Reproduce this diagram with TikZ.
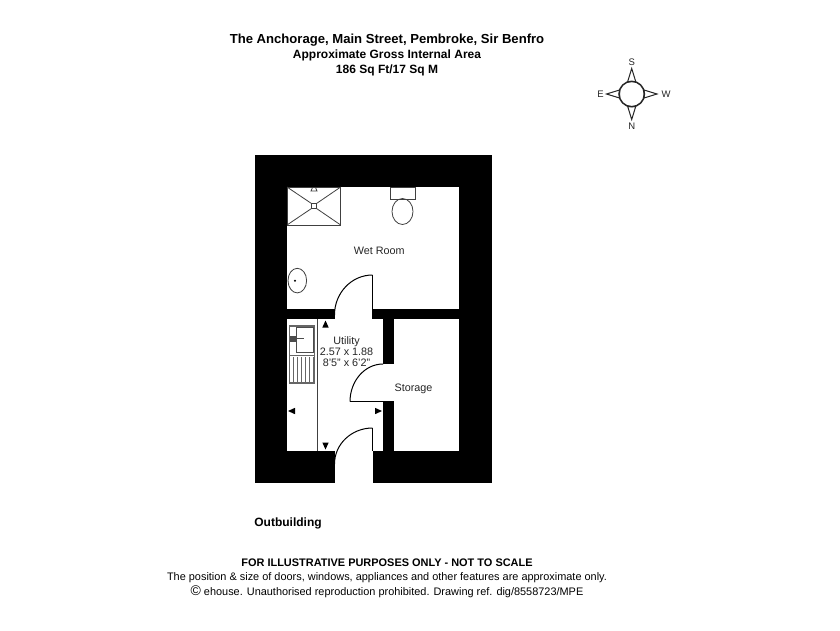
\documentclass[tikz,border=0pt]{standalone}
\usepackage{fontspec}
\setmainfont{Liberation Sans}
\tikzset{
  wall/.style={fill=black},
  room/.style={fill=white},
  fitting/.style={draw=black!75, line width=0.8pt},
  leaf/.style={draw=black, line width=1.2pt},
  marker/.style={fill=black},
  compassmark/.style={draw=black!85, line width=1pt},
  compasslabel/.style={font=\fontsize{9.5}{11}\selectfont, text=black!85, inner sep=0pt},
  roomlabel/.style={font=\fontsize{10.8}{11.3}\selectfont, align=center, text=black!85, inner sep=0pt},
  heading/.style={font=\bfseries\fontsize{12}{14}\selectfont, inner sep=0pt},
  footer/.style={font=\fontsize{10.92}{13}\selectfont, inner sep=0pt},
}
\begin{document}
\begin{tikzpicture}[x=1pt, y=-1pt]
            \useasboundingbox (0,0) rectangle (840,630);
            \fill[white] (0,0) rectangle (840,630);

            \fill[wall] (254.5,155) rectangle (491.5,483);
            \fill[room] (287,187) rectangle (458.5,308.5);
            \fill[room] (287,319) rectangle (383,451);
            \fill[room] (393.5,319) rectangle (458.5,451);
            \fill[room] (334.5,308) rectangle (372.5,320);
            \fill[room] (334.5,450) rectangle (372.5,484);
            \fill[room] (382,364) rectangle (394,402);

            \draw[leaf] (372.5,275) -- (372.5,319);
            \draw[leaf, line width=1pt] (372.5,275) arc[start angle=90, end angle=180, x radius=38pt, y radius=40pt];
            \draw[leaf] (372.5,428) -- (372.5,451);
            \draw[leaf, line width=1pt] (372.5,428) arc[start angle=90, end angle=180, x radius=38pt, y radius=36pt];
            \draw[leaf] (350,401.7) -- (393.5,401.7);
            \draw[leaf, line width=1pt] (350,401.7) arc[start angle=180, end angle=90, x radius=33pt, y radius=37.7pt];

            \draw[fitting] (287,187) rectangle (340.7,225);
            \draw[fitting] (287,187) -- (311.5,203.5);
            \draw[fitting] (340.7,187) -- (316.5,203.5);
            \draw[fitting] (287,225) -- (311.5,208.5);
            \draw[fitting] (340.7,225) -- (316.5,208.5);
            \draw[fitting] (311.3,203.3) rectangle (316.7,208.7);
            \draw[fitting] (311,191) -- (312.5,187.5) -- (315.5,187.5) -- (317,191) -- cycle;

            \draw[fitting] (390.7,187) rectangle (415.7,199);
            \draw[fitting] (402.5,211.5) ellipse [x radius=10.5pt, y radius=13pt];
            \draw[fitting] (297.3,280.6) ellipse [x radius=9.3pt, y radius=12.3pt];
            \fill[black] (295,280.7) circle (1.1pt);

            \draw[fitting, line width=0.7pt] (317.7,319) -- (317.7,451);
            \draw[fitting, black!60, line width=1.2pt] (289.5,326) rectangle (314.5,383);
            \draw[fitting, black!60] (289.5,355) -- (314.5,355);
            \draw[fitting, black!70] (296.7,327.5) rectangle (313,352);
            \fill[black!70] (290,335.5) rectangle (297,341.5);
            \draw[fitting, black!70] (297,338.5) -- (304,338.5);
            \foreach \xdrain in {293,297,301,305,309,313} {
                \draw[fitting, black!60] (\xdrain,357) -- (\xdrain,382);
            }

            \fill[marker] (325.5,320.5) -- (328.7,327.5) -- (322.3,327.5) -- cycle;
            \fill[marker] (325.5,449.5) -- (328.7,442.5) -- (322.3,442.5) -- cycle;
            \fill[marker] (288,411) -- (295,407.8) -- (295,414.2) -- cycle;
            \fill[marker] (382,411) -- (375,407.8) -- (375,414.2) -- cycle;

            \draw[black!85, line width=1.5pt] (631.7,94) circle (12.7pt);
            \draw[compassmark] (631.7,68.5) -- (635.7,81.5) -- (627.7,81.5) -- cycle;
            \draw[compassmark] (631.7,119.5) -- (635.7,106.5) -- (627.7,106.5) -- cycle;
            \draw[compassmark] (606.5,94) -- (619.5,90) -- (619.5,98) -- cycle;
            \draw[compassmark] (657,94) -- (644,90) -- (644,98) -- cycle;

            \node[compasslabel] (south) at (631.7,62) {S};
            \node[compasslabel] (north) at (631.7,126) {N};
            \node[compasslabel] (east) at (600.5,94) {E};
            \node[compasslabel] (west) at (666,94) {W};

            \node[heading, font=\bfseries\fontsize{13.1}{14}\selectfont] (title) at (387,40) {The Anchorage, Main Street, Pembroke, Sir Benfro};
            \node[heading] (area) at (387,55.5) {Approximate Gross Internal Area};
            \node[heading] (size) at (387,70) {186 Sq Ft/17 Sq M};

            \node[roomlabel] (wetroom) at (379.3,251) {Wet Room};
            \node[roomlabel] (utility) at (346.5,351.5) {Utility\\2.57 x 1.88\\8'5" x 6'2"};
            \node[roomlabel] (storage) at (413.5,388.5) {Storage};
            \node[heading] (outbuilding) at (288,523.5) {Outbuilding};

            \node[heading, font=\bfseries\fontsize{10.95}{13}\selectfont] (notice) at (387,563) {FOR ILLUSTRATIVE PURPOSES ONLY - NOT TO SCALE};
            \node[footer] (position) at (387,578) {The position \& size of doors, windows, appliances and other features are approximate only.};
            \node[footer] (drawing) at (387,592) {{\fontsize{14}{14}\selectfont ©} ehouse. Unauthorised reproduction prohibited. Drawing ref. dig/8558723/MPE};
\end{tikzpicture}
\end{document}
